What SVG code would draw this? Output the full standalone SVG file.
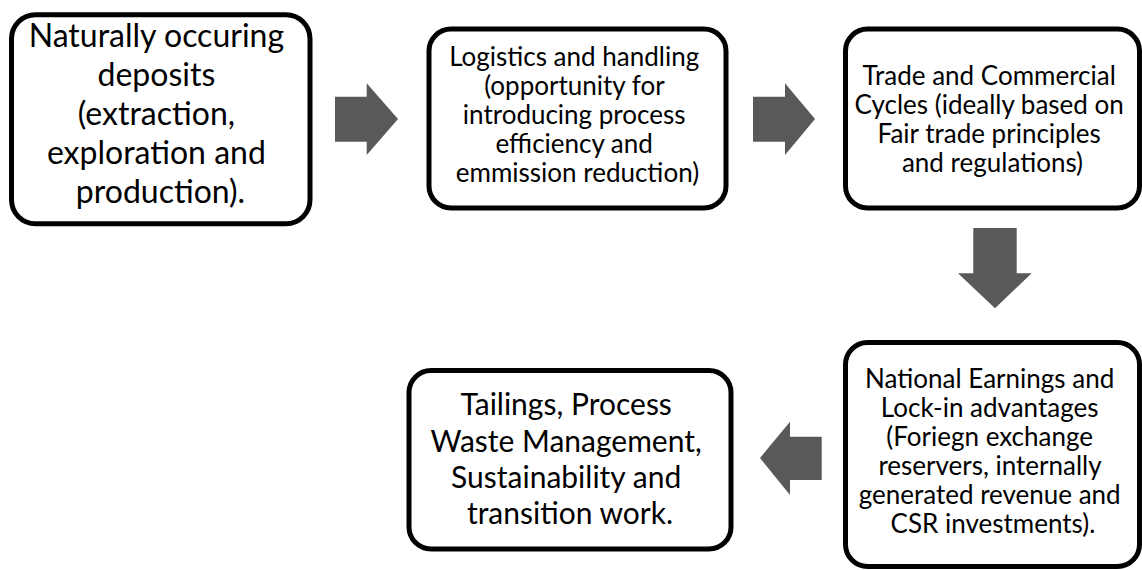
<svg xmlns="http://www.w3.org/2000/svg" width="1142" height="570" viewBox="0 0 1142 570">
  <style>
    .box { fill: #ffffff; stroke: #000000; stroke-width: 5; }
    .arrow { fill: #595959; stroke: none; }
    .lbl { font-family: Lato, "Liberation Sans", sans-serif; fill: #000000; text-anchor: middle; }
    .big { font-size: 32px; }
    .mid { font-size: 30px; }
    .small { font-size: 26px; }
  </style>
  <rect width="1142" height="570" fill="#ffffff"/>

  <g id="connectors">
    <!-- deposits to logistics -->
    <polygon class="arrow" points="335,96.7 366.7,96.7 366.7,83.3 398,119 366.7,155 366.7,141.7 335,141.7"/>
    <!-- logistics to trade -->
    <polygon class="arrow" points="753,96.7 785,96.7 785,83.3 815,119 785,155 785,141.7 753,141.7"/>
    <!-- trade down to national earnings -->
    <polygon class="arrow" points="973.3,228 1016.7,228 1016.7,273.3 1031.7,273.3 995,308.3 958,273.3 973.3,273.3"/>
    <!-- national earnings to tailings -->
    <polygon class="arrow" points="821.7,436.7 790,436.7 790,421.7 760,458 790,495 790,480 821.7,480"/>
  </g>

  <g id="node-deposits">
    <rect class="box" x="11.5" y="14.7" width="298.5" height="209" rx="24"/>
    <text class="lbl big">
      <tspan x="160.5" y="47">Naturally occuring</tspan>
      <tspan x="160.5" y="86">deposits</tspan>
      <tspan x="160.5" y="125">(extraction,</tspan>
      <tspan x="160.5" y="164">exploration and</tspan>
      <tspan x="160.5" y="203">production).</tspan>
    </text>
  </g>

  <g id="node-logistics">
    <rect class="box" x="429" y="29" width="297" height="179" rx="22"/>
    <text class="lbl small">
      <tspan x="577.5" y="66">Logistics and handling</tspan>
      <tspan x="577.5" y="95">(opportunity for</tspan>
      <tspan x="577.5" y="124">introducing process</tspan>
      <tspan x="577.5" y="153">efficiency and</tspan>
      <tspan x="577.5" y="182">emmission reduction)</tspan>
    </text>
  </g>

  <g id="node-trade">
    <rect class="box" x="845.5" y="29" width="294" height="179" rx="22"/>
    <text class="lbl small">
      <tspan x="992.5" y="85">Trade and Commercial</tspan>
      <tspan x="992.5" y="114">Cycles (ideally based on</tspan>
      <tspan x="992.5" y="143">Fair trade principles</tspan>
      <tspan x="992.5" y="172">and regulations)</tspan>
    </text>
  </g>

  <g id="node-earnings">
    <rect class="box" x="845.5" y="342.5" width="294" height="224" rx="22"/>
    <text class="lbl small">
      <tspan x="993" y="388">National Earnings and</tspan>
      <tspan x="993" y="417">Lock-in advantages</tspan>
      <tspan x="993" y="446">(Foriegn exchange</tspan>
      <tspan x="993" y="475">reservers, internally</tspan>
      <tspan x="993" y="504">generated revenue and</tspan>
      <tspan x="993" y="533">CSR investments).</tspan>
    </text>
  </g>

  <g id="node-tailings">
    <rect class="box" x="409" y="370.5" width="322" height="178.5" rx="22"/>
    <text class="lbl mid">
      <tspan x="570" y="415">Tailings, Process</tspan>
      <tspan x="570" y="451.5">Waste Management,</tspan>
      <tspan x="570" y="488">Sustainability and</tspan>
      <tspan x="570" y="523.5">transition work.</tspan>
    </text>
  </g>
</svg>
